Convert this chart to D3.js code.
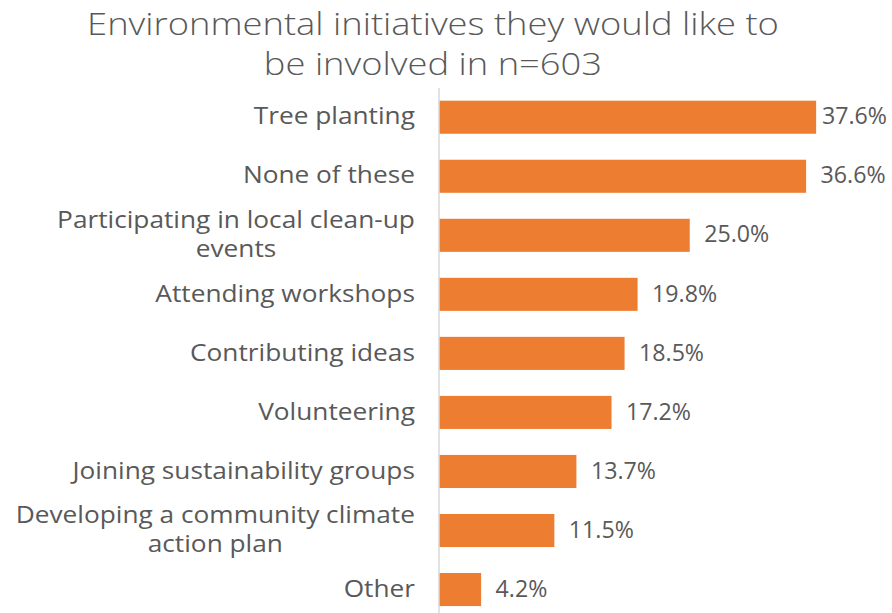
<!DOCTYPE html>
<html><head><meta charset="utf-8">
<script src="https://cdn.jsdelivr.net/npm/d3@7"></script>
<style>body{margin:0;background:#fff}</style>
</head><body>
<svg id="c" width="892" height="613"></svg>
<script>
const categories = ["Tree planting","None of these","Participating in local clean-up events","Attending workshops","Contributing ideas","Volunteering","Joining sustainability groups","Developing a community climate action plan","Other"];
const labelLines = [["Tree planting"],["None of these"],["Participating in local clean-up","events"],["Attending workshops"],["Contributing ideas"],["Volunteering"],["Joining sustainability groups"],["Developing a community climate","action plan"],["Other"]];
const values = [37.6,36.6,25.0,19.8,18.5,17.2,13.7,11.5,4.2];
const titleLines = ["Environmental initiatives they would like to","be involved in n=603"];

const svg = d3.select("#c");
const font = "'Open Sans', sans-serif";
const textColor = "#595959";
const x = d3.scaleLinear().domain([0,40]).range([439, 439+401.2]);
const y = d3.scaleBand().domain(categories).range([87.7, 87.7+59.04*9]).paddingInner(0.44).paddingOuter(0.22);

function hscale(sel, s, ax){ sel.attr("transform",`translate(${ax},0) scale(${s},1) translate(${-ax},0)`); }

// title
const tg = svg.append("g");
const tt = tg.selectAll("text").data(titleLines).join("text")
  .attr("x",433).attr("y",(d,i)=>35+i*40).attr("text-anchor","middle")
  .attr("font-family",font).attr("font-size",30.5).attr("fill",textColor).attr("font-weight",300)
  .text(d=>d);
const tw = tt.nodes()[0].getComputedTextLength();
hscale(tg, 692/tw, 433);

// bars
svg.append("g").selectAll("rect").data(values).join("rect")
  .attr("x",x(0)).attr("y",(d,i)=>y(categories[i]))
  .attr("width",d=>x(d)-x(0)).attr("height",y.bandwidth()).attr("fill","#ED7D31");

svg.append("line").attr("x1",x(0)).attr("x2",x(0)).attr("y1",88).attr("y2",613)
  .attr("stroke","#D9D9D9").attr("stroke-width",1.5);

// category labels
const lg = svg.append("g");
labelLines.forEach((lines,i)=>{
  const cy = y(categories[i])+y.bandwidth()/2;
  const t = lg.append("text").attr("text-anchor","middle").attr("font-family",font).attr("font-size",24).attr("fill",textColor);
  lines.forEach((l,j)=>{
    t.append("tspan").attr("x",0).attr("y",cy+(j-(lines.length-1)/2)*29.3).attr("dy","0.3em").text(l);
  });
  const w = d3.max(t.selectAll("tspan").nodes(), n=>n.getComputedTextLength());
  t.selectAll("tspan").attr("x",415-w/2);
});
const probe = lg.selectAll("tspan").filter(function(){return this.textContent==="Participating in local clean-up";}).node();
const sLab = 358/probe.getComputedTextLength();
hscale(lg, sLab, 415);

// value labels
const vt = svg.append("g").selectAll("text").data(values).join("text")
  .attr("y",(d,i)=>y(categories[i])+y.bandwidth()/2)
  .attr("dy","0.3em").attr("font-family",font).attr("font-size",24).attr("fill",textColor)
  .text(d=>d.toFixed(1)+"%");
const sVal = 65/vt.nodes()[0].getComputedTextLength();
vt.each(function(d){
  const w = this.getComputedTextLength()*sVal;
  const px = Math.min(x(d)+14.5, 887-w);
  d3.select(this).attr("x",px);
  hscale(d3.select(this), sVal, px);
});
</script>
</body></html>
